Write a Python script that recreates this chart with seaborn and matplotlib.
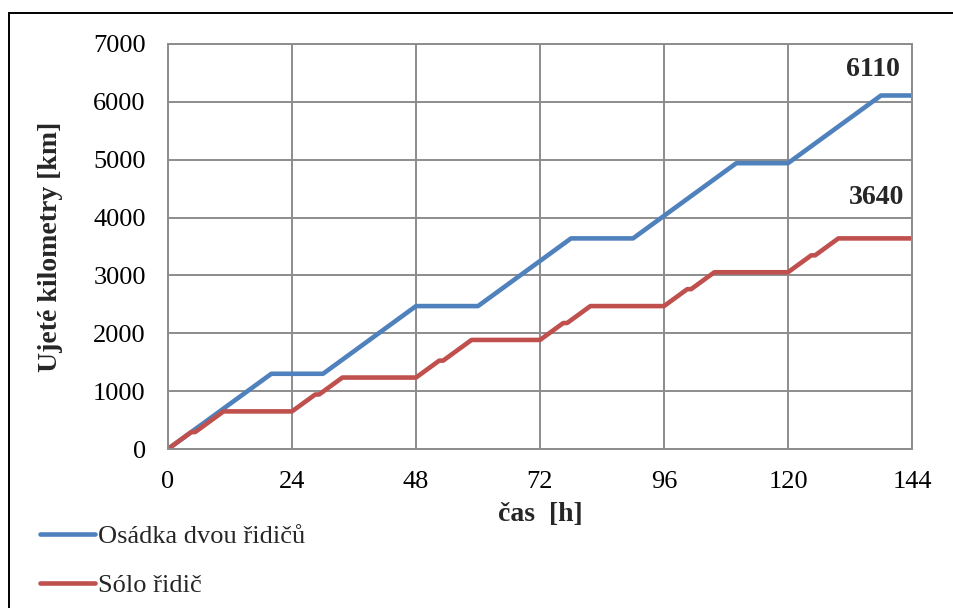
import matplotlib
matplotlib.use("Agg")
import matplotlib.pyplot as plt
import matplotlib.patches as mpatches
import pandas as pd
import seaborn as sns

# Time [h] and cumulative distance [km] for each crew type
t_dvou = [0, 20, 30, 48, 60, 78, 90, 110, 120, 138, 144]
km_dvou = [0, 1300, 1300, 2470, 2470, 3640, 3640, 4940, 4940, 6110, 6110]

t_solo = [0, 4.5, 5.25, 10.75, 24, 28.5, 29.25, 33.75, 48, 52.5, 53.25, 58.75,
          72, 76.5, 77.25, 81.75, 96, 100.5, 101.25, 105.75, 120, 124.5, 125.25,
          129.75, 144]
km_solo = [0, 292.5, 292.5, 650, 650, 942.5, 942.5, 1235, 1235, 1527.5, 1527.5,
           1885, 1885, 2177.5, 2177.5, 2470, 2470, 2762.5, 2762.5, 3055, 3055,
           3347.5, 3347.5, 3640, 3640]

series_names = ["Osádka dvou řidičů", "Sólo řidič"]
series_colors = ["#4F81BD", "#C0504D"]
x_ticks = [0, 24, 48, 72, 96, 120, 144]
y_ticks = [0, 1000, 2000, 3000, 4000, 5000, 6000, 7000]

df = pd.concat([
    pd.DataFrame({"t": t_dvou, "km": km_dvou, "serie": series_names[0]}),
    pd.DataFrame({"t": t_solo, "km": km_solo, "serie": series_names[1]}),
], ignore_index=True)

sns.set_style("white")
FONT = ["Liberation Serif", "DejaVu Serif"]
plt.rcParams["font.family"] = FONT
FS = 19          # tick labels and legend
FS_BOLD = 20     # axis titles and end values

fig = plt.figure(figsize=(9.54, 6.08), dpi=100)
ax = fig.add_axes([168 / 954, 1 - 449 / 608, (912 - 168) / 954, (449 - 44) / 608])

grid_c = "#8C8C8C"
sns.lineplot(data=df, x="t", y="km", hue="serie", palette=series_colors,
             hue_order=series_names, estimator=None, sort=False,
             linewidth=3.3, solid_capstyle="round", ax=ax)

ax.set_xlim(0, 144)
ax.set_ylim(0, 7000)
ax.set_xticks(x_ticks)
ax.set_yticks(y_ticks)
ax.grid(True, color=grid_c, linewidth=1.4)
ax.set_axisbelow(True)
for s in ax.spines.values():
    s.set_color(grid_c)
    s.set_linewidth(1.4)
ax.tick_params(axis="both", which="major", direction="out", length=6,
               width=1.4, color=grid_c, labelcolor="black", labelsize=FS,
               pad=10)
for lab in ax.get_xticklabels() + ax.get_yticklabels():
    lab.set_family(FONT)

ax.set_xlabel("čas  [h]", fontsize=FS_BOLD, fontweight="bold", family=FONT,
              labelpad=6)
ax.set_ylabel("Ujeté kilometry [km]", fontsize=FS_BOLD, fontweight="bold",
              family=FONT, labelpad=22)

# Final values next to line ends
ax.annotate(str(km_dvou[-1]), xy=(t_dvou[-1], km_dvou[-1]), xytext=(-12, 26),
            textcoords="offset pixels", ha="right", va="center",
            fontsize=FS_BOLD, fontweight="bold", family=FONT)
ax.annotate(str(km_solo[-1]), xy=(t_solo[-1], km_solo[-1]), xytext=(-8, 41),
            textcoords="offset pixels", ha="right", va="center",
            fontsize=FS_BOLD, fontweight="bold", family=FONT)

sns.move_legend(ax, "upper left", bbox_to_anchor=(40 / 954, 1 - 525 / 608),
                bbox_transform=fig.transFigure, frameon=False, title=None,
                prop={"family": FONT, "size": FS}, handlelength=2.1,
                handletextpad=0.1, labelspacing=0.95, borderpad=0,
                borderaxespad=0)
leg = ax.get_legend()
for h in leg.legend_handles:
    h.set_linewidth(3.3)
    h.set_solid_capstyle("round")

# Chart area frame
fig.patches.append(mpatches.Rectangle((9 / 954, -0.05), 1.1, 1 - 13 / 608 + 0.05,
                                      transform=fig.transFigure, fill=False,
                                      edgecolor="black", linewidth=1.4))

fig.savefig("out.png", dpi=100)
